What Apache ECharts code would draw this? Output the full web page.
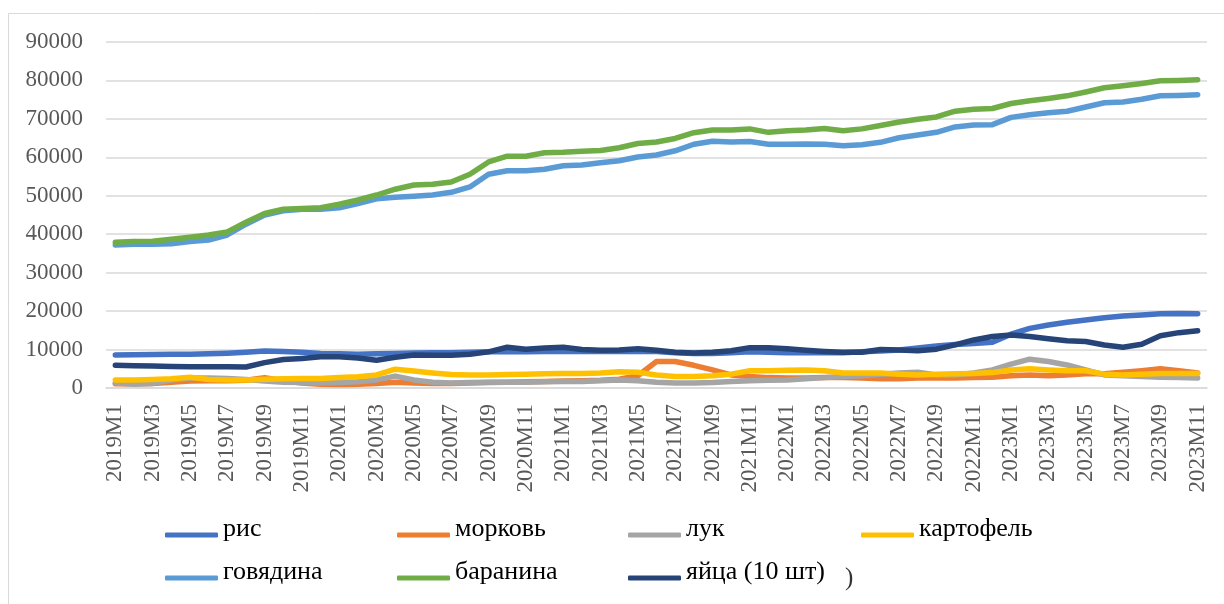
<!DOCTYPE html>
<html>
<head>
<meta charset="utf-8">
<script src="https://cdn.jsdelivr.net/npm/echarts@6/dist/echarts.min.js"></script>
<style>
  html, body { margin: 0; padding: 0; background: #fff; }
  #chart { width: 1224px; height: 604px; }
</style>
</head>
<body>
<div id="chart"></div>
<script>
// месяцы
var months = [
  '2019M1','2019M2','2019M3','2019M4','2019M5','2019M6','2019M7','2019M8','2019M9','2019M10','2019M11','2019M12',
  '2020M1','2020M2','2020M3','2020M4','2020M5','2020M6','2020M7','2020M8','2020M9','2020M10','2020M11','2020M12',
  '2021M1','2021M2','2021M3','2021M4','2021M5','2021M6','2021M7','2021M8','2021M9','2021M10','2021M11','2021M12',
  '2022M1','2022M2','2022M3','2022M4','2022M5','2022M6','2022M7','2022M8','2022M9','2022M10','2022M11','2022M12',
  '2023M1','2023M2','2023M3','2023M4','2023M5','2023M6','2023M7','2023M8','2023M9','2023M10','2023M11'
];

var yTicks = [0, 90000, 10000]; // min, max, шаг

var names = ['рис', 'морковь', 'лук', 'картофель', 'говядина', 'баранина', 'яйца (10 шт)'];
var colors = ['#4472C4', '#ED7D31', '#A5A5A5', '#FFC000', '#5B9BD5', '#70AD47', '#264478'];

var ris = [8600,8650,8700,8750,8800,8900,9050,9300,9600,9500,9300,9000,8900,8800,8900,
  9000,9100,9200,9200,9300,9400,9400,9400,9500,9500,9500,9500,9500,9500,
  9500,9200,9000,9000,9200,9400,9300,9200,9200,9200,9200,9400,
  9600,9900,10400,10900,11300,11600,11900,14000,15500,16400,17100,17700,18300,18700,19000,19300,19400,19300];

var morkov = [1100,1100,1200,1500,1800,1900,1900,2000,2700,1900,1300,1000,900,1000,
  1200,1500,1300,1200,1200,1300,1400,1500,1600,1700,1800,1900,2000,2300,3200,
  6900,6900,5900,4700,3400,3000,2700,2600,2600,2700,2700,2600,2400,2400,2600,
  2600,2600,2700,2800,3200,3400,3200,3400,3700,3700,4100,4500,5000,4500,3900];

var luk = [1300,1000,1200,2100,2600,2600,2500,2200,1800,1500,1400,1300,1400,1600,
  2100,3100,2100,1500,1300,1400,1500,1500,1500,1600,1700,1700,1900,2100,1900,
  1500,1300,1300,1400,1700,1900,2000,2100,2400,2700,3000,3200,3600,3900,4100,
  3400,3400,3900,4700,6200,7500,6900,6000,4700,3400,3200,3000,2800,2700,2600];

var kartofel = [2100,2100,2200,2400,2800,2200,2100,2100,2300,2400,2500,2500,2700,2900,
  3400,4900,4400,3900,3500,3400,3400,3500,3600,3700,3800,3800,3900,4200,4100,
  3400,3000,3000,3200,3600,4500,4500,4600,4700,4500,3900,3900,3900,3600,3400,
  3600,3700,3800,4000,4700,5000,4700,4500,4500,3600,3400,3600,3800,3800,3800];

var govyadina = [37200,37400,37400,37500,38100,38500,39800,42600,45000,46100,46500,46500,46900,48000,49200,
  49600,49900,50200,50900,52300,55600,56500,56500,56900,57800,58000,58600,59100,60100,60600,61700,63400,64200,64000,64100,63400,63400,63500,
  63400,63000,63300,63900,65100,65800,66500,67900,68400,68500,70400,71100,71600,72000,73100,74200,74400,75100,76000,76100,76300];

var baranina = [37900,38100,38200,38700,39200,39800,40600,43100,45400,46500,46700,46900,47800,48900,50200,
  51700,52800,53000,53600,55600,58800,60300,60300,61200,61300,61600,61800,62500,63600,64000,64900,66400,67100,67100,67400,66500,66900,67100,
  67500,66900,67400,68300,69200,69900,70500,72000,72500,72700,74000,74700,75300,76000,77000,78100,78600,79200,79900,80000,80200];

var yaytsa = [5900,5800,5700,5600,5550,5500,5500,5450,6600,7400,7700,8100,8100,7800,7200,
  8000,8600,8500,8500,8800,9400,10600,10100,10400,10600,10000,9800,9900,10200,
  9800,9300,9100,9300,9700,10500,10500,10200,9800,9500,9300,9300,
  10000,9900,9700,10100,11200,12500,13400,13800,13400,12800,12300,12100,11200,10600,11400,13600,14400,14900];

var seriesData = [ris, morkov, luk, kartofel, govyadina, baranina, yaytsa];

// расположение подписей легенды
var legendPos = [[165, 516], [397, 516], [628, 516], [861, 516], [165, 559], [397, 559], [628, 559]];

var serif = "'Liberation Serif', 'Times New Roman', serif";

var series = names.map(function (n, k) {
  return {
    name: n,
    type: 'line',
    data: seriesData[k],
    symbol: 'none',
    showSymbol: false,
    lineStyle: { width: 5.5, color: colors[k], cap: 'round', join: 'round' },
    itemStyle: { color: colors[k] }
  };
});

var legends = names.map(function (n, k) {
  return {
    data: [n],
    left: legendPos[k][0],
    top: legendPos[k][1],
    icon: 'roundRect',
    itemWidth: 53,
    itemHeight: 5,
    padding: 0,
    selectedMode: false,
    formatter: '{t|{name}}',
    textStyle: {
      fontFamily: serif, fontSize: 26, color: '#000',
      rich: { t: { fontFamily: serif, fontSize: 26, color: '#000', lineHeight: 26, padding: [0, 0, 12, 0] } }
    }
  };
});

var chart = echarts.init(document.getElementById('chart'));
var option = {
  animation: false,
  backgroundColor: '#fff',
  color: colors,
  grid: { left: 106, right: 17, top: 42, bottom: 216, containLabel: false },
  xAxis: {
    type: 'category',
    data: months,
    boundaryGap: true,
    axisLine: { show: true, lineStyle: { color: '#d9d9d9', width: 1.5 } },
    axisTick: { show: false },
    axisLabel: { interval: 1, rotate: 90, margin: 16, fontFamily: serif, fontSize: 23, color: '#595959' }
  },
  yAxis: {
    type: 'value',
    min: yTicks[0], max: yTicks[1], interval: yTicks[2],
    axisLine: { show: false },
    axisTick: { show: false },
    splitLine: { lineStyle: { color: '#d9d9d9', width: 1.5 } },
    axisLabel: {
      margin: 23, fontFamily: serif, fontSize: 23, color: '#595959',
      formatter: function (v) { return String(v); }
    }
  },
  legend: legends,
  graphic: [
    { type: 'rect', shape: { x: 8.5, y: 13.5, width: 1400, height: 800 }, style: { fill: 'none', stroke: '#d9d9d9', lineWidth: 1 }, silent: true, z: -1 },
    { type: 'text', left: 845, top: 566, style: { text: ')', font: '25px ' + serif, fill: '#333' }, silent: true }
  ],
  series: series
};
chart.setOption(option);
</script>
</body>
</html>
